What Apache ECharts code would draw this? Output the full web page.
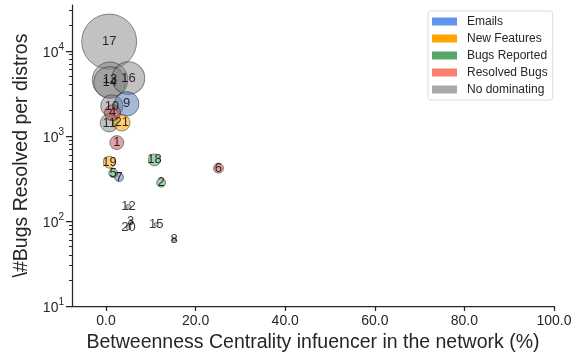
<!DOCTYPE html>
<html>
<head>
<meta charset="utf-8">
<script src="https://cdn.jsdelivr.net/npm/echarts@6/dist/echarts.min.js"></script>
<style>
  html, body { margin: 0; padding: 0; background: #fff; }
  #chart { width: 586px; height: 358px; }
</style>
</head>
<body>
<div id="chart"></div>
<script>
// distro ids shown inside the bubbles
var distroIds = ['17', '13', '14', '16', '9', '10', '4', '11', '21', '1', '19', '18', '6', '5', '7', '2', '12', '3', '20', '15', '8'];
// betweenness centrality (%)
var centrality = [0.7, 0.9, 0.8, 5.0, 4.6, 1.3, 1.45, 0.7, 3.5, 2.4, 0.75, 10.8, 25.1, 1.6, 2.9, 12.3, 5.0, 5.5, 5.0, 11.2, 15.2];
// #bugs resolved per distro
var bugsResolved = [12850, 4560, 4250, 4775, 2380, 2250, 1870, 1420, 1430, 834, 491, 522, 417, 364, 327, 282, 147, 98, 84, 91, 61];
// bubble weight
var activity = [756, 317, 256, 266, 151, 125, 64, 81, 69, 49, 36, 36, 25, 20, 20, 20, 6, 4, 6, 4, 4];
// dominating factor of each distro
var dominating = ['No dominating', 'No dominating', 'No dominating', 'No dominating', 'Emails', 'No dominating',
    'Resolved Bugs', 'No dominating', 'New Features', 'Resolved Bugs', 'New Features', 'Bugs Reported',
    'Resolved Bugs', 'Bugs Reported', 'Emails', 'Bugs Reported', 'No dominating', 'No dominating',
    'Bugs Reported', 'No dominating', 'Bugs Reported'];

var categories = ['Emails', 'New Features', 'Bugs Reported', 'Resolved Bugs', 'No dominating'];
var legendColors = ['#6495ED', '#FFA500', '#55A868', '#FA8072', '#A9A9A9'];
var bubbleColors = ['rgba(76,114,176,0.62)', 'rgba(255,165,0,0.7)', 'rgba(85,168,104,0.7)', 'rgba(196,78,82,0.65)', 'rgba(128,128,128,0.6)'];

var xTicks = [0, 20, 40, 60, 80, 100];
var yMajor = [10, 100, 1000, 10000];
var yMinor = [];
yMajor.forEach(function (d) {
    for (var k = 2; k <= 9; k++) yMinor.push(d * k);
});

var chart = echarts.init(document.getElementById('chart'));
var axisColor = '#262626';
var font = 'Liberation Sans';

// gray first so the coloured bubbles sit on top
var drawOrder = [4, 0, 1, 2, 3];
var series = drawOrder.map(function (ci) {
    var name = categories[ci];
    var data = [];
    for (var i = 0; i < distroIds.length; i++) {
        if (dominating[i] === name) {
            data.push([centrality[i], bugsResolved[i], activity[i], distroIds[i]]);
        }
    }
    return {
        type: 'scatter',
        name: name,
        data: data,
        symbolSize: function (val) { return 2 * Math.sqrt(val[2]); },
        itemStyle: {
            color: bubbleColors[ci],
            borderColor: 'rgba(30,30,30,0.6)',
            borderWidth: 1
        },
        label: {
            show: true,
            position: 'inside',
            formatter: function (p) { return p.value[3]; },
            color: '#000',
            fontSize: 13,
            fontFamily: font
        },
        emphasis: { disabled: true }
    };
});

var option = {
    animation: false,
    grid: { left: 72, right: 32, top: 5, bottom: 52 },
    legend: {
        orient: 'vertical',
        left: 428,
        top: 11,
        padding: [4, 5, 4, 4],
        itemGap: 4,
        itemWidth: 25,
        itemHeight: 8,
        icon: 'rect',
        borderColor: '#dcdcdc',
        borderWidth: 1,
        borderRadius: 3,
        textStyle: { fontSize: 12, color: axisColor, fontFamily: font, lineHeight: 13, padding: [0, 0, 0, 5] },
        data: categories.map(function (c, i) {
            return { name: c, itemStyle: { color: legendColors[i], opacity: 1, borderWidth: 0 } };
        })
    },
    xAxis: {
        type: 'value',
        min: -7.6,
        max: 100,
        name: 'Betweenness Centrality infuencer in the network (%)',
        nameLocation: 'middle',
        nameGap: 27,
        nameTextStyle: { fontSize: 19.5, color: axisColor, fontFamily: font },
        axisLine: { show: true, onZero: false, lineStyle: { color: axisColor, width: 1.25 } },
        axisTick: { show: true, length: 5, customValues: xTicks, lineStyle: { color: axisColor, width: 1.25 } },
        axisLabel: {
            customValues: xTicks,
            margin: 8,
            fontSize: 14,
            color: axisColor,
            fontFamily: font,
            formatter: function (v) { return v.toFixed(1); }
        },
        splitLine: { show: false }
    },
    yAxis: [{
        type: 'log',
        logBase: 10,
        min: 10,
        max: 34600,
        name: '\\#Bugs Resolved per distros',
        nameLocation: 'middle',
        nameGap: 30,
        nameRotate: 90,
        nameTextStyle: { fontSize: 19.5, color: axisColor, fontFamily: font },
        axisLine: { show: true, onZero: false, lineStyle: { color: axisColor, width: 1.25 } },
        axisTick: { show: true, length: 6, customValues: yMajor, lineStyle: { color: axisColor, width: 1.25 } },
        axisLabel: {
            customValues: yMajor,
            margin: 8,
            color: axisColor,
            fontFamily: font,
            formatter: function (v) {
                return '{b|10}{s|' + Math.round(Math.log10(v)) + '}';
            },
            rich: {
                b: { fontSize: 14, color: axisColor, fontFamily: font, verticalAlign: 'bottom', lineHeight: 18 },
                s: { fontSize: 10, color: axisColor, fontFamily: font, verticalAlign: 'top', lineHeight: 18 }
            }
        },
        splitLine: { show: false }
    }, {
        type: 'log',
        logBase: 10,
        min: 10,
        max: 34600,
        position: 'left',
        axisLine: { show: false, onZero: false },
        axisTick: { show: true, length: 3, customValues: yMinor, lineStyle: { color: axisColor, width: 1 } },
        axisLabel: { show: false },
        splitLine: { show: false }
    }],
    series: series
};

chart.setOption(option);
</script>
</body>
</html>
